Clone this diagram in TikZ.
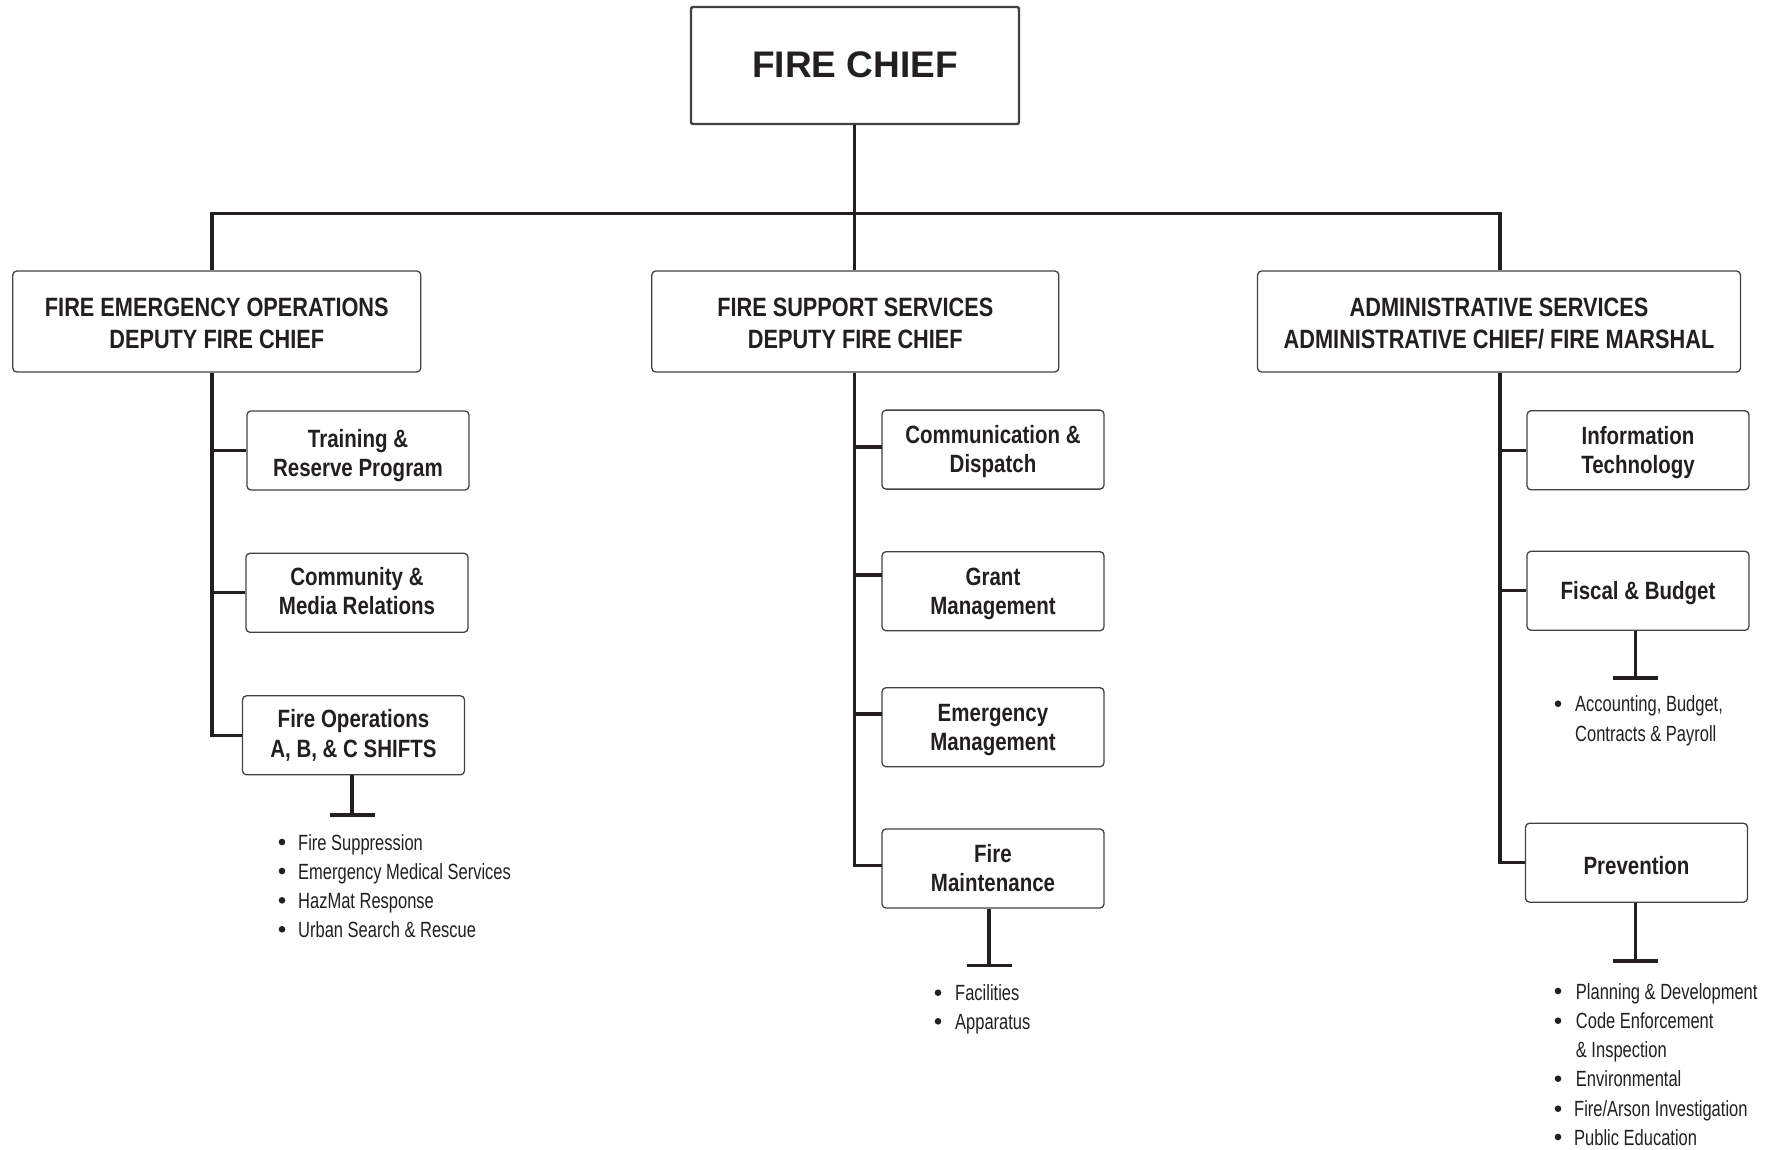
\documentclass[tikz,border=0pt]{standalone}
\usepackage{fontspec}
\setmainfont{Liberation Sans}
\newfontfamily\bcond{Liberation Sans}[FakeStretch=0.82]
\newfontfamily\lcond{Liberation Sans}[FakeStretch=0.75]
\newcommand\BotStrut{\rule[-0.21em]{0pt}{0.21em}}
\newcommand\TopH{\rule{0pt}{1.04em}}
\newcommand\TopS[1][0.9em]{\rule{0pt}{#1}}
\definecolor{ink}{HTML}{231F20}
\begin{document}
\begin{tikzpicture}[x=1pt,y=-1pt,
  conn/.style={draw=ink,line width=3.3pt},
  box/.style={draw=ink!85,line width=1.3pt,rounded corners=4pt,fill=white,inner sep=0pt,align=center,text=ink,
    execute at end node=\BotStrut},
  head/.style={box,minimum height=101pt,font=\bcond\bfseries\fontsize{26.5}{32.5}\selectfont},
  sub/.style={box,minimum width=222pt,minimum height=79pt,font=\bcond\bfseries\fontsize{25}{29.5}\selectfont},
  item/.style={anchor=base west,inner sep=0pt,text=ink,font=\lcond\fontsize{22}{29}\selectfont},
  dot/.style={fill=ink}
]
\useasboundingbox (0,0) rectangle (1780,1149);

% top
\node[box,line width=2.4pt,rounded corners=2pt,minimum width=328pt,minimum height=117pt,
  font=\bfseries\fontsize{37}{40}\selectfont] (chief) at (855,65.5) {\rule{0pt}{0.85em}FIRE CHIEF};

% heads
\node[head,minimum width=408pt] (feo) at (216.8,321.5) {\TopH FIRE EMERGENCY OPERATIONS\\DEPUTY FIRE CHIEF};
\node[head,minimum width=407pt] (fss) at (855.3,321.5) {\TopH FIRE SUPPORT SERVICES\\DEPUTY FIRE CHIEF};
\node[head,minimum width=483pt] (adm) at (1499,321.5) {\TopH ADMINISTRATIVE SERVICES\\ADMINISTRATIVE CHIEF/ FIRE MARSHAL};

% left column
\node[sub] (tr) at (358,450.5) {\TopS[1.15em]Training \&\\Reserve Program};
\node[sub] (cm) at (357,592.8) {\TopS[0.78em]Community \&\\Media Relations};
\node[sub] (fo) at (353.5,735.3) {\TopS[0.78em]Fire Operations\\A, B, \& C SHIFTS};

% middle column
\node[sub] (cd) at (993,449.6) {\TopS Communication \&\\Dispatch};
\node[sub] (gm) at (993,591.2) {\TopS Grant\\Management};
\node[sub] (em) at (993,727.2) {\TopS Emergency\\Management};
\node[sub] (fm) at (993,868.5) {\TopS Fire\\Maintenance};

% right column
\node[sub] (it) at (1638,450.3) {\TopS Information\\Technology};
\node[sub] (fb) at (1638,590.8) {\TopS Fiscal \& Budget};
\node[sub] (pv) at (1636.5,862.7) {\TopS[1.15em]Prevention};

% bus
\coordinate (tL) at (212,213.3);
\coordinate (tM) at (854.3,213.3);
\coordinate (tR) at (1500,213.3);
\draw[conn] (chief.south -| tM) -- (tM);
\draw[conn,line join=miter] (tL |- feo.north) -- (tL) -- (tR) -- (tR |- adm.north);
\draw[conn] (tM) -- (tM |- fss.north);

% left trunk
\draw[conn,line join=miter] (tL |- feo.south) -- (tL |- fo.west) -- (fo.west);
\draw[conn] (tL |- tr.west) -- (tr.west);
\draw[conn] (tL |- cm.west) -- (cm.west);

% middle trunk
\coordinate (cdc) at (882.3,447);
\coordinate (gmc) at (882.3,575);
\coordinate (emc) at (882.3,714);
\coordinate (fmc) at (882.3,865.3);
\draw[conn,line join=miter] (tM |- fss.south) -- (tM |- fmc) -- (fmc);
\draw[conn] (tM |- cdc) -- (cdc);
\draw[conn] (tM |- gmc) -- (gmc);
\draw[conn] (tM |- emc) -- (emc);

% right trunk
\draw[conn,line join=miter] (tR |- adm.south) -- (tR |- pv.west) -- (pv.west);
\draw[conn] (tR |- it.west) -- (it.west);
\draw[conn] (tR |- fb.west) -- (fb.west);

% stems with bars
\coordinate (foT) at (352,815);
\coordinate (fmT) at (989,965.3);
\coordinate (fbT) at (1635.5,678);
\coordinate (pvT) at (1635.5,961);
\draw[conn] (fo.south -| foT) -- (foT);
\draw[conn] ([xshift=-22.5pt]foT) -- ([xshift=22.5pt]foT);
\draw[conn] (fm.south -| fmT) -- (fmT);
\draw[conn] ([xshift=-22.5pt]fmT) -- ([xshift=22.5pt]fmT);
\draw[conn] (fb.south -| fbT) -- (fbT);
\draw[conn] ([xshift=-22.5pt]fbT) -- ([xshift=22.5pt]fbT);
\draw[conn] (pv.south -| pvT) -- (pvT);
\draw[conn] ([xshift=-22.5pt]pvT) -- ([xshift=22.5pt]pvT);

% lists: fire operations
\node[item] (fo1) at (298,850) {Fire Suppression};
\node[item] (fo2) at (298,879) {Emergency Medical Services};
\node[item] (fo3) at (298,908.3) {HazMat Response};
\node[item] (fo4) at (298,937.3) {Urban Search \& Rescue};
\foreach \yy in {850,879,908.3,937.3} \fill[dot] (282,\yy-8) circle (3.3pt);

% lists: maintenance
\node[item] (fm1) at (955,1000.7) {Facilities};
\node[item] (fm2) at (955,1029.3) {Apparatus};
\foreach \yy in {1000.7,1029.3} \fill[dot] (938,\yy-8) circle (3.3pt);

% lists: fiscal
\node[item] (fb1) at (1575,711.7) {Accounting, Budget,};
\node[item] (fb2) at (1575,741.7) {Contracts \& Payroll};
\fill[dot] (1558,703.7) circle (3.3pt);

% lists: prevention
\node[item] (pv1) at (1575.7,999) {Planning \& Development};
\node[item] (pv2) at (1575.7,1028.7) {Code Enforcement};
\node[item] (pv3) at (1575.7,1057.7) {\& Inspection};
\node[item] (pv4) at (1575.7,1086.7) {Environmental};
\node[item] (pv5) at (1574,1116.7) {Fire/Arson Investigation};
\node[item] (pv6) at (1574,1145) {Public Education};
\foreach \yy in {999,1028.7,1086.7,1116.7,1145} \fill[dot] (1558,\yy-8) circle (3.3pt);
\end{tikzpicture}
\end{document}
